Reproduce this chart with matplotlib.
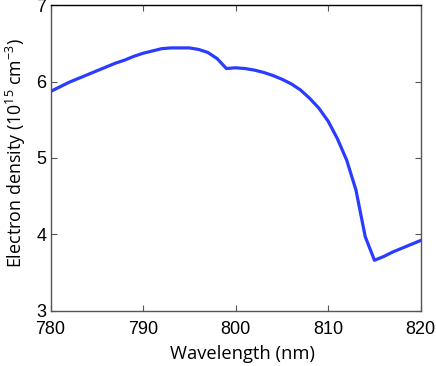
import matplotlib
matplotlib.use("Agg")
import matplotlib.pyplot as plt
import numpy as np


wavelength = np.arange(780, 821)
density = [5.87, 5.93, 5.99, 6.04, 6.09, 6.14, 6.19, 6.24, 6.28, 6.33,
           6.37, 6.40, 6.43, 6.44, 6.44, 6.44, 6.42, 6.38, 6.30, 6.17,
           6.18, 6.17, 6.15, 6.12, 6.08, 6.03, 5.97, 5.89, 5.78, 5.65,
           5.48, 5.25, 4.97, 4.58, 3.97, 3.66, 3.71, 3.77, 3.82, 3.87,
           3.92]

xticks = [780, 790, 800, 810, 820]
yticks = [3, 4, 5, 6, 7]

plt.rcParams["mathtext.fontset"] = "custom"
plt.rcParams["mathtext.rm"] = "Open Sans"
plt.rcParams["mathtext.it"] = "Open Sans:italic"
plt.rcParams["mathtext.bf"] = "Open Sans:bold"


fig = plt.figure(figsize=(4.36, 3.66), dpi=100)
ax = fig.add_axes([0.116, 0.151, 0.849, 0.835])

ax.plot(wavelength, density, color="#2a3cff", linewidth=2.3)

ax.set_xlim(780, 820)
ax.set_ylim(3, 7)
ax.set_xticks(xticks)
ax.set_yticks(yticks)
ax.tick_params(direction="in", top=True, right=True, length=4, width=0.8,
               color="#555555", labelsize=13)
ax.tick_params(axis="x", pad=7.5)
ax.tick_params(axis="y", pad=3)
for lbl in ax.get_xticklabels() + ax.get_yticklabels():
    lbl.set_family("Liberation Sans")
for sp in ax.spines.values():
    sp.set_color("#555555")
    sp.set_linewidth(1.0)
ax.spines["top"].set_color("black")

ax.set_xlabel("Wavelength (nm)", family="Open Sans", fontsize=13.2, labelpad=5)
ax.xaxis.label.set_x(0.518)
ax.set_ylabel(r"Electron density (10$^{15}$ cm$^{-3}$)", family="Open Sans",
              fontsize=12.9)
ax.yaxis.set_label_coords(-0.061, 0.516)

fig.savefig("out.png", dpi=100)
